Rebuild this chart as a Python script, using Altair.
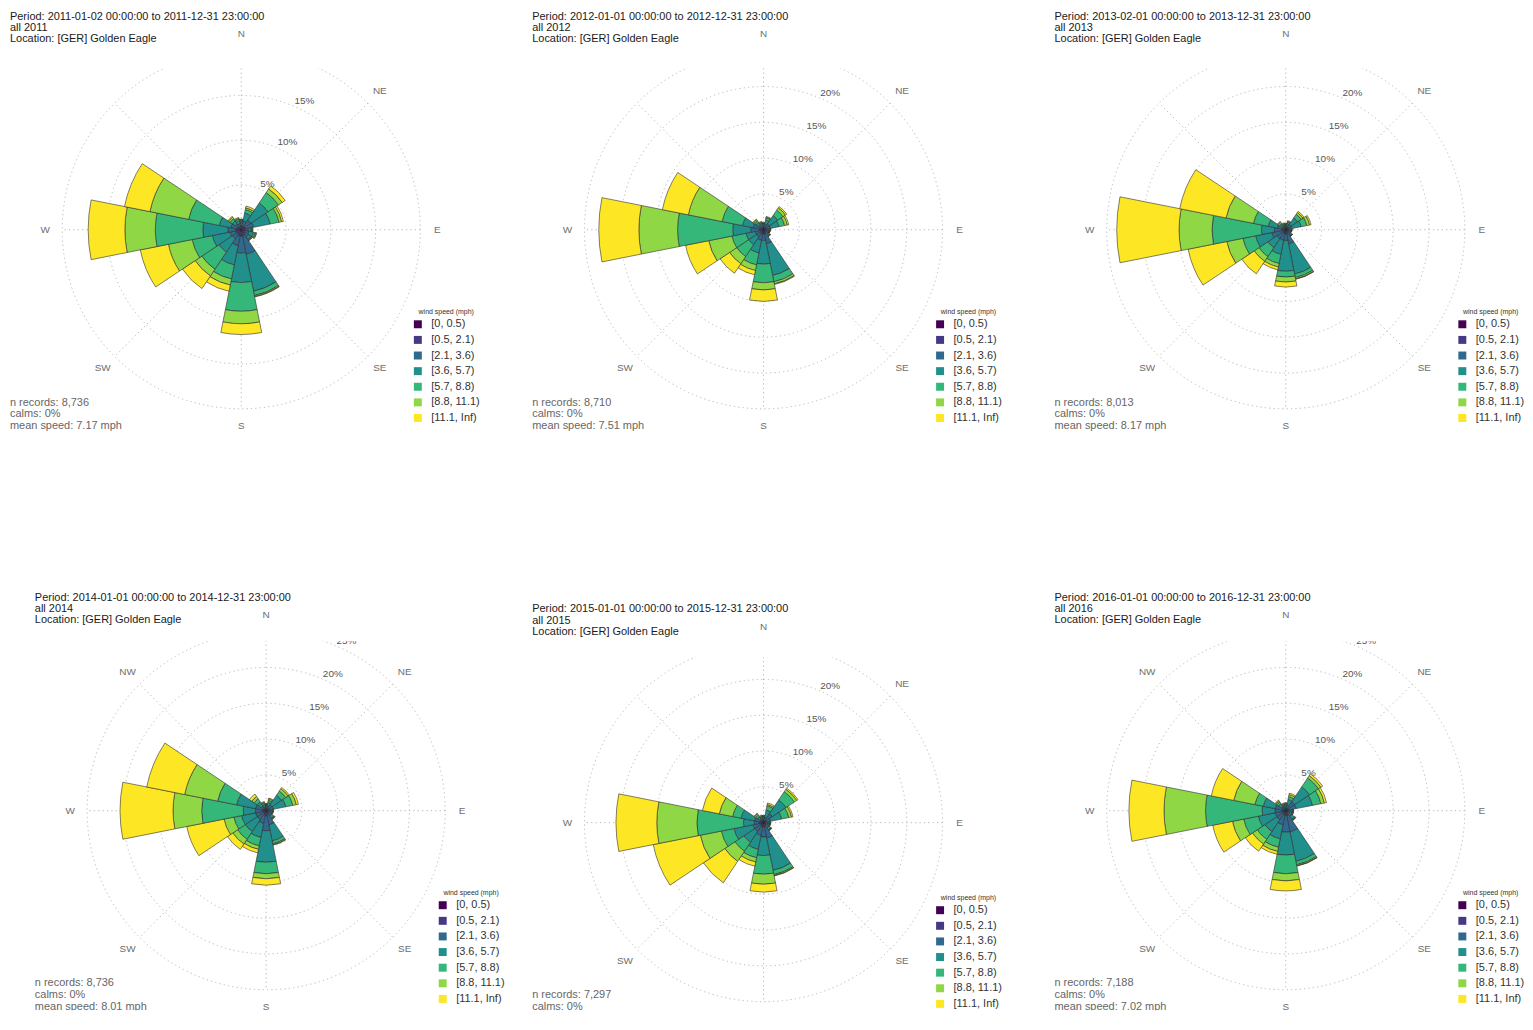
import math
import altair as alt
import pandas as pd

FONT = "Liberation Sans"

DIRECTIONS = ["N", "NNE", "NE", "ENE", "E", "ESE", "SE", "SSE",
              "S", "SSW", "SW", "WSW", "W", "WNW", "NW", "NNW"]
DIR_DEGREES = [0, 22.5, 45, 67.5, 90, 112.5, 135, 157.5,
               180, 202.5, 225, 247.5, 270, 292.5, 315, 337.5]
SPEED_BINS = ["[0, 0.5)", "[0.5, 2.1)", "[2.1, 3.6)", "[3.6, 5.7)",
              "[5.7, 8.8)", "[8.8, 11.1)", "[11.1, Inf)"]
SPEED_COLORS = ["#440154", "#443A83", "#31688E", "#21908C",
                "#35B779", "#8FD744", "#FDE725"]

YEARS = ["2011", "2012", "2013", "2014", "2015", "2016"]
PERIOD_FROM = ["2011-01-02 00:00:00", "2012-01-01 00:00:00", "2013-02-01 00:00:00",
               "2014-01-01 00:00:00", "2015-01-01 00:00:00", "2016-01-01 00:00:00"]
PERIOD_TO = ["2011-12-31 23:00:00", "2012-12-31 23:00:00", "2013-12-31 23:00:00",
             "2014-12-31 23:00:00", "2015-12-31 23:00:00", "2016-12-31 23:00:00"]
LOCATION = "[GER] Golden Eagle"
N_RECORDS = ["8,736", "8,710", "8,013", "8,736", "7,297", "7,188"]
CALMS = ["0%", "0%", "0%", "0%", "0%", "0%"]
MEAN_SPEED = ["7.17", "7.51", "8.17", "8.01", "7.88", "7.02"]
RING_MAX = [20, 25, 25, 25, 25, 25]
RING_LABELS = [[5, 10, 15], [5, 10, 15, 20, 25], [5, 10, 15, 20, 25],
               [5, 10, 15, 20, 25], [5, 10, 15, 20, 25], [5, 10, 15, 20, 25]]
COMPASS_TOP = ["N", "NE", "E", "SE", "S", "SW", "W"]
COMPASS_TOP_DEG = [0, 45, 90, 135, 180, 225, 270]
COMPASS_ALL = ["N", "NE", "E", "SE", "S", "SW", "W", "NW"]
COMPASS_ALL_DEG = [0, 45, 90, 135, 180, 225, 270, 315]

# cumulative frequency (%) at the upper edge of each speed bin, per direction
CUM_2011 = [
    [0.05, 0.4, 0.8, 1.0, 1.1, 1.15, 1.2],
    [0.05, 0.4, 1.0, 1.9, 2.3, 2.5, 2.7],
    [0.05, 0.5, 1.3, 3.6, 5.0, 5.5, 5.9],
    [0.05, 0.5, 1.4, 3.3, 4.3, 4.6, 4.8],
    [0.05, 0.4, 0.8, 1.1, 1.2, 1.25, 1.3],
    [0.05, 0.4, 0.9, 1.4, 1.6, 1.7, 1.75],
    [0.05, 0.5, 1.0, 1.3, 1.4, 1.45, 1.5],
    [0.1, 0.7, 2.8, 7.0, 7.5, 7.6, 7.65],
    [0.1, 0.7, 2.6, 5.9, 9.1, 10.5, 11.7],
    [0.1, 0.7, 1.8, 4.0, 5.6, 6.3, 7.0],
    [0.1, 0.6, 1.2, 3.0, 5.3, 6.2, 7.9],
    [0.1, 0.6, 1.3, 3.3, 5.6, 8.3, 11.5],
    [0.1, 0.6, 1.5, 4.3, 9.6, 13.0, 17.1],
    [0.1, 0.5, 1.2, 2.5, 6.0, 10.4, 13.3],
    [0.05, 0.4, 0.8, 1.2, 1.5, 1.7, 1.8],
    [0.05, 0.4, 0.7, 1.0, 1.2, 1.3, 1.4],
]
CUM_2012 = [
    [0.05, 0.3, 0.6, 0.8, 0.9, 0.95, 1.0],
    [0.05, 0.3, 0.8, 1.4, 1.7, 1.8, 1.9],
    [0.05, 0.4, 1.0, 2.4, 3.3, 3.7, 3.9],
    [0.05, 0.4, 1.0, 2.2, 3.0, 3.4, 3.6],
    [0.05, 0.3, 0.6, 0.8, 0.9, 0.95, 1.0],
    [0.05, 0.3, 0.6, 0.8, 0.85, 0.9, 0.9],
    [0.05, 0.4, 0.8, 1.0, 1.1, 1.15, 1.2],
    [0.1, 0.6, 2.0, 6.5, 7.4, 7.7, 7.8],
    [0.1, 0.6, 1.5, 4.8, 7.4, 8.4, 10.0],
    [0.1, 0.6, 1.5, 3.3, 5.0, 5.8, 6.4],
    [0.1, 0.5, 1.2, 2.5, 4.5, 5.7, 7.3],
    [0.1, 0.5, 1.2, 2.5, 4.5, 7.8, 11.1],
    [0.1, 0.6, 1.8, 4.3, 12.0, 17.4, 23.0],
    [0.1, 0.5, 1.5, 3.0, 5.9, 10.7, 14.4],
    [0.05, 0.4, 0.8, 1.2, 1.5, 1.7, 1.8],
    [0.05, 0.3, 0.6, 0.9, 1.0, 1.1, 1.2],
]
CUM_2013 = [
    [0.05, 0.3, 0.5, 0.7, 0.8, 0.85, 0.9],
    [0.05, 0.3, 0.6, 0.9, 1.1, 1.2, 1.3],
    [0.05, 0.4, 0.9, 2.0, 2.6, 2.9, 3.1],
    [0.05, 0.4, 0.9, 2.2, 3.0, 3.4, 3.6],
    [0.05, 0.3, 0.5, 0.7, 0.8, 0.85, 0.9],
    [0.05, 0.3, 0.5, 0.7, 0.75, 0.8, 0.8],
    [0.05, 0.4, 0.8, 1.0, 1.1, 1.1, 1.1],
    [0.1, 0.6, 2.0, 6.3, 6.8, 7.0, 7.05],
    [0.1, 0.6, 1.5, 5.8, 6.6, 7.3, 8.0],
    [0.1, 0.5, 1.5, 3.5, 4.8, 5.3, 5.7],
    [0.1, 0.5, 1.5, 3.0, 4.5, 5.3, 7.4],
    [0.1, 0.5, 2.0, 4.3, 6.1, 8.4, 13.9],
    [0.1, 0.6, 1.6, 3.4, 10.3, 14.9, 23.6],
    [0.1, 0.5, 1.2, 2.5, 4.6, 8.5, 15.1],
    [0.05, 0.3, 0.6, 0.9, 1.1, 1.3, 1.4],
    [0.05, 0.3, 0.5, 0.7, 0.8, 0.9, 1.0],
]
CUM_2014 = [
    [0.05, 0.3, 0.6, 0.8, 0.9, 0.95, 1.0],
    [0.05, 0.3, 0.7, 1.2, 1.5, 1.7, 1.8],
    [0.05, 0.4, 1.0, 2.6, 3.3, 3.7, 3.9],
    [0.05, 0.4, 1.0, 2.8, 3.8, 4.3, 4.6],
    [0.05, 0.3, 0.6, 0.8, 0.9, 1.0, 1.0],
    [0.05, 0.3, 0.6, 0.8, 0.9, 0.95, 1.0],
    [0.05, 0.4, 0.9, 1.3, 1.4, 1.45, 1.5],
    [0.1, 0.6, 2.0, 4.3, 4.7, 4.85, 4.9],
    [0.1, 0.7, 2.8, 7.2, 8.8, 9.5, 10.4],
    [0.1, 0.6, 1.8, 3.8, 5.0, 5.5, 6.0],
    [0.1, 0.5, 1.5, 3.5, 4.8, 5.6, 6.5],
    [0.1, 0.5, 1.5, 3.5, 4.6, 6.0, 11.3],
    [0.1, 0.6, 1.5, 3.2, 9.0, 13.0, 20.4],
    [0.1, 0.5, 1.5, 4.2, 6.9, 11.6, 17.0],
    [0.05, 0.4, 0.8, 1.5, 2.0, 2.4, 2.8],
    [0.05, 0.3, 0.6, 0.9, 1.1, 1.2, 1.3],
]
CUM_2015 = [
    [0.05, 0.3, 0.6, 0.8, 0.9, 0.95, 1.0],
    [0.05, 0.3, 0.8, 1.8, 2.4, 2.6, 2.8],
    [0.05, 0.4, 1.5, 3.8, 5.2, 5.6, 5.8],
    [0.05, 0.4, 1.0, 2.6, 3.6, 4.0, 4.2],
    [0.05, 0.3, 0.6, 0.8, 0.9, 0.95, 1.0],
    [0.05, 0.3, 0.6, 0.8, 0.9, 0.95, 1.0],
    [0.05, 0.4, 0.9, 1.2, 1.3, 1.35, 1.4],
    [0.1, 0.6, 2.2, 6.8, 7.4, 7.55, 7.6],
    [0.1, 0.6, 2.0, 4.6, 7.2, 8.6, 9.7],
    [0.1, 0.6, 1.8, 3.8, 5.0, 5.6, 6.2],
    [0.1, 0.5, 1.5, 3.3, 4.8, 6.5, 10.1],
    [0.1, 0.5, 1.5, 4.2, 6.0, 9.0, 15.7],
    [0.1, 0.6, 1.3, 2.8, 9.3, 14.9, 20.6],
    [0.1, 0.5, 1.3, 3.2, 4.4, 6.3, 8.7],
    [0.05, 0.3, 0.6, 1.0, 1.3, 1.5, 1.6],
    [0.05, 0.3, 0.6, 0.8, 0.9, 1.0, 1.1],
]
CUM_2016 = [
    [0.05, 0.3, 0.6, 0.9, 1.0, 1.05, 1.1],
    [0.05, 0.3, 0.8, 1.6, 2.0, 2.3, 2.5],
    [0.05, 0.4, 1.5, 4.0, 5.5, 5.9, 6.2],
    [0.05, 0.4, 1.5, 3.8, 5.0, 5.5, 5.8],
    [0.05, 0.3, 0.6, 0.9, 1.0, 1.05, 1.1],
    [0.05, 0.3, 0.6, 0.9, 1.0, 1.05, 1.1],
    [0.05, 0.4, 1.0, 1.5, 1.6, 1.65, 1.7],
    [0.1, 0.7, 3.0, 7.2, 7.7, 7.85, 7.9],
    [0.1, 0.7, 3.0, 6.2, 8.8, 9.8, 11.2],
    [0.1, 0.6, 2.0, 4.0, 5.2, 5.8, 6.2],
    [0.1, 0.5, 1.5, 3.5, 4.8, 5.6, 6.8],
    [0.1, 0.5, 1.5, 3.9, 6.0, 7.6, 10.4],
    [0.1, 0.6, 1.5, 3.3, 11.2, 17.0, 21.9],
    [0.1, 0.5, 1.5, 3.2, 4.4, 7.4, 10.6],
    [0.05, 0.3, 0.7, 1.2, 1.5, 1.7, 1.8],
    [0.05, 0.3, 0.6, 0.8, 0.9, 1.0, 1.1],
]
CUMS = [CUM_2011, CUM_2012, CUM_2013, CUM_2014, CUM_2015, CUM_2016]

# ---- layout (pixels) ----
PW = 472
PH_ROW = [423, 421]
HSPACE, VSPACE = 53, 161
CX, CY = 234.5, 220.3
R_PX = 180
LABEL_R = 197
OFFSETS = [(0, 0), (0, 0), (0, 0), (25, 0), (0, 12), (0, 0)]
LEGEND_DY = [0, 0, 0, 0, 5, 0]
MASK_BOTTOM = [58, 58, 58, 50, 54, 50]
SHOW_NW = [False, False, False, True, False, True]
CLIP = [False, False, False, True, True, True]

GRID = "#b4b4b4"
DASH = [1.2, 3.2]


def panel(k):
    dx, dy = OFFSETS[k]
    cx, cy = CX + dx, CY + dy
    PH = PH_ROW[k // 3]
    rmax = RING_MAX[k]
    s = R_PX / rmax
    clip = CLIP[k]
    xs = alt.Scale(domain=[-cx / s, (PW - cx) / s], nice=False, zero=False)
    ys = alt.Scale(domain=[-(PH - cy) / s, cy / s], nice=False, zero=False)
    ts = alt.Scale(domain=[0, 360], range=[0, 2 * math.pi])
    rs = alt.Scale(type="linear", domain=[0, rmax], range=[0, R_PX], nice=False, zero=True)

    def center():
        return dict(x=alt.X("cx:Q", scale=xs, axis=None), y=alt.Y("cy:Q", scale=ys, axis=None))

    rows = []
    for i, d in enumerate(DIRECTIONS):
        prev = 0.0
        for b, lab in enumerate(SPEED_BINS):
            cur = CUMS[k][i][b]
            rows.append(dict(direction=d, t0=DIR_DEGREES[i] - 11.25, t1=DIR_DEGREES[i] + 11.25,
                             r0=prev, r1=cur, speed=lab, cx=0.0, cy=0.0))
            prev = cur
    petals_df = pd.DataFrame(rows)

    rings_df = pd.DataFrame({"r": list(range(5, rmax + 1, 5))})
    rings_df["t0"] = 0.0
    rings_df["t1"] = 360.0
    rings_df["cx"] = 0.0
    rings_df["cy"] = 0.0

    spokes = []
    for a in [0, 45, 90, 135]:
        ra = math.radians(a)
        spokes.append(dict(x=rmax * math.sin(ra), y=rmax * math.cos(ra),
                           x2=-rmax * math.sin(ra), y2=-rmax * math.cos(ra)))
    spokes_df = pd.DataFrame(spokes)

    lab_a = math.radians(22.5)
    ring_lab_df = pd.DataFrame([
        dict(x=(r + 5 / s) * math.sin(lab_a), y=(r + 5 / s) * math.cos(lab_a), t=f"{r}%")
        for r in RING_LABELS[k]])

    names = COMPASS_ALL if SHOW_NW[k] else COMPASS_TOP
    degs = COMPASS_ALL_DEG if SHOW_NW[k] else COMPASS_TOP_DEG
    comp_df = pd.DataFrame([
        dict(x=(LABEL_R / s) * math.sin(math.radians(a)),
             y=(LABEL_R / s) * math.cos(math.radians(a)), t=c)
        for c, a in zip(names, degs)])

    title_df = pd.DataFrame({"t": [f"Period: {PERIOD_FROM[k]} to {PERIOD_TO[k]}\nall {YEARS[k]}\nLocation: {LOCATION}"]})
    stats_df = pd.DataFrame({"t": [f"n records: {N_RECORDS[k]}\ncalms: {CALMS[k]}\nmean speed: {MEAN_SPEED[k]} mph"]})
    mask_df = pd.DataFrame({"m": [1]})

    rings = alt.Chart(rings_df).mark_arc(filled=False, stroke=GRID, strokeWidth=1, strokeDash=DASH,
                                         clip=clip).encode(
        theta=alt.Theta("t0:Q", scale=ts, stack=None),
        theta2="t1:Q",
        radius=alt.Radius("r:Q", scale=rs, stack=None),
        **center())

    spokes_l = alt.Chart(spokes_df).mark_rule(stroke=GRID, strokeWidth=1, strokeDash=DASH,
                                              clip=clip).encode(
        x=alt.X("x:Q", scale=xs, axis=None), y=alt.Y("y:Q", scale=ys, axis=None),
        x2="x2:Q", y2="y2:Q")

    ring_labels = alt.Chart(ring_lab_df).mark_text(
        align="left", baseline="middle", font=FONT, fontSize=10, color="#555555", clip=clip).encode(
        x=alt.X("x:Q", scale=xs, axis=None), y=alt.Y("y:Q", scale=ys, axis=None), text="t:N")

    mask = alt.Chart(mask_df).mark_rect(fill="white", clip=clip).encode(
        x=alt.value(0), x2=alt.value(cx + 115), y=alt.value(0), y2=alt.value(MASK_BOTTOM[k] + dy))

    compass = alt.Chart(comp_df).mark_text(
        align="center", baseline="middle", font=FONT, fontSize=10, color="#6e6e6e", clip=clip).encode(
        x=alt.X("x:Q", scale=xs, axis=None), y=alt.Y("y:Q", scale=ys, axis=None), text="t:N")

    petals = alt.Chart(petals_df).mark_arc(stroke="#2e2e2e", strokeWidth=0.6, clip=clip).encode(
        theta=alt.Theta("t0:Q", scale=ts, stack=None),
        theta2="t1:Q",
        radius=alt.Radius("r1:Q", scale=rs, stack=None),
        radius2="r0:Q",
        color=alt.Color("speed:N", scale=alt.Scale(domain=SPEED_BINS, range=SPEED_COLORS),
                        legend=alt.Legend(
                            orient="none", legendX=406.5 + dx, legendY=299 + LEGEND_DY[k],
                            title="wind speed (mph)", titleFont=FONT, titleFontSize=7,
                            titleFontWeight="normal", titleColor="#333333", titleAnchor="middle",
                            titlePadding=3.8, labelFont=FONT, labelFontSize=11, labelColor="#333333",
                            symbolType="square", symbolSize=64, symbolStrokeWidth=0,
                            rowPadding=3.7, labelOffset=8, padding=0)),
        **center())

    title = alt.Chart(title_df).mark_text(
        align="left", baseline="top", font=FONT, fontSize=11, color="#1a1a1a",
        lineBreak="\n", lineHeight=11.2, clip=clip).encode(
        x=alt.value(2 + dx), y=alt.value(0 + dy), text="t:N")

    stats = alt.Chart(stats_df).mark_text(
        align="left", baseline="top", font=FONT, fontSize=11, color="#666666",
        lineBreak="\n", lineHeight=11.8, clip=clip).encode(
        x=alt.value(2 + dx), y=alt.value(388 + dy), text="t:N")

    return alt.layer(rings, spokes_l, ring_labels, mask, petals, compass, title, stats).properties(
        width=PW, height=PH)


panels = [panel(k) for k in range(6)]

RES = dict(x="independent", y="independent", color="independent",
           theta="independent", radius="independent")

row1 = alt.hconcat(*panels[:3], spacing=HSPACE, bounds="flush").resolve_scale(**RES).resolve_legend(
    color="independent")
row2 = alt.hconcat(*panels[3:], spacing=HSPACE, bounds="flush").resolve_scale(**RES).resolve_legend(
    color="independent")
chart = alt.vconcat(row1, row2, spacing=VSPACE).resolve_scale(**RES).resolve_legend(
    color="independent").properties(padding=0, background="white").configure_view(
    stroke=None, fill="white")

chart.save("out.html", embed_options={"renderer": "svg", "actions": False})
